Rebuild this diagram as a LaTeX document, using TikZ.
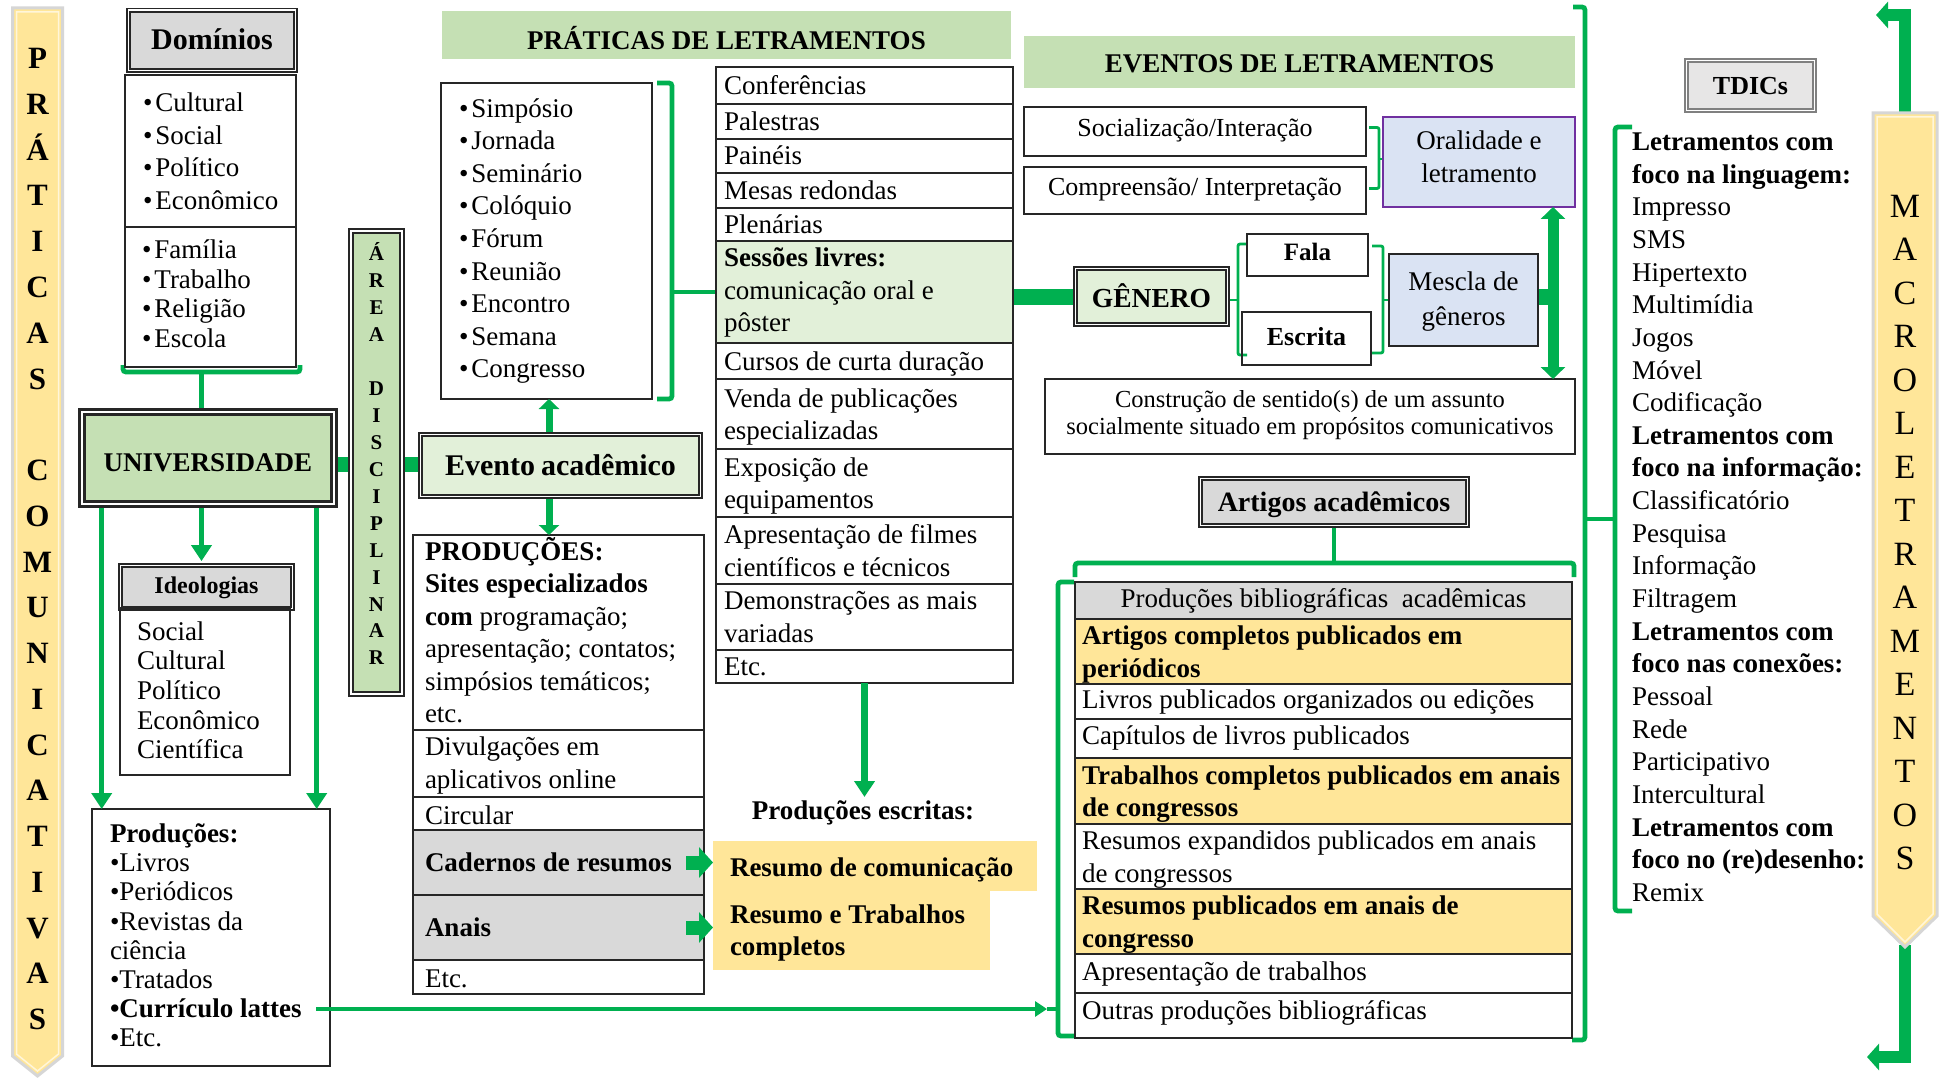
\documentclass[tikz,border=0pt]{standalone}
\usepackage{fontspec}
\setmainfont{Liberation Serif}
\usetikzlibrary{arrows.meta,calc,backgrounds}

\definecolor{gcol}{HTML}{00B050}
\definecolor{hdrgreen}{HTML}{C5E0B4}
\definecolor{palegreen}{HTML}{E2F0D9}
\definecolor{gold}{HTML}{FFE699}
\definecolor{greybox}{HTML}{D9D9D9}
\definecolor{lightgrey}{HTML}{E7E6E6}
\definecolor{paleblue}{HTML}{DAE3F3}
\definecolor{purpleedge}{HTML}{7030A0}
\definecolor{edge}{HTML}{262626}
\definecolor{tdicedge}{HTML}{808080}
\definecolor{bannerrim}{HTML}{D6D6D6}
\definecolor{bannerin}{HTML}{FFF6DA}

\newcommand\bodyfs{\fontsize{27}{32.5}\selectfont}
\newcommand\setfs[2]{\fontsize{#1}{#2}\selectfont}

% left-aligned cell: name, x1, y1, x2, y2, box style, text style, text
\def\cellpad{8}
\newcommand\tcell[8]{%
  \pgfmathsetmacro\cellw{#4-#2}%
  \pgfmathsetmacro\cellh{#5-#3}%
  \pgfmathsetmacro\cellx{(#2+#4)/2}%
  \pgfmathsetmacro\celly{(#3+#5)/2}%
  \pgfmathsetmacro\celll{#2+\cellpad}%
  \node[boxline,#6,minimum width=\cellw pt,minimum height=\cellh pt] (#1) at (\cellx,\celly) {};
  \node[txt,#7] (#1-t) at (\celll,\celly) {#8};}
% centred cell: name, x1, y1, x2, y2, box style, text style, text
\newcommand\ccell[8]{%
  \pgfmathsetmacro\cellw{#4-#2}%
  \pgfmathsetmacro\cellh{#5-#3}%
  \pgfmathsetmacro\cellx{(#2+#4)/2}%
  \pgfmathsetmacro\celly{(#3+#5)/2}%
  \node[boxline,#6,minimum width=\cellw pt,minimum height=\cellh pt] (#1) at (\cellx,\celly) {};
  \node[ctxt,#7] (#1-t) at (\cellx,\celly) {#8};}

\begin{document}
\begin{tikzpicture}[x=1pt,y=-1pt,
  every node/.style={font=\bodyfs},
  boxline/.style={draw=edge, line width=2.2pt, inner sep=0pt, outer sep=0pt},
  txt/.style={anchor=west, align=left, inner sep=0pt, outer sep=0pt, yshift=-5pt,
    execute at begin node=\strut, execute at end node=\strut},
  oneline/.style={yshift=2.5pt},
  ctxt/.style={align=center, inner sep=0pt, outer sep=0pt,
    execute at begin node=\strut, execute at end node=\strut},
  dbl/.style={draw=edge, line width=1.8pt, double=white, double distance=1.6pt},
  dblthick/.style={draw=edge, line width=3pt, double=white, double distance=2.4pt},
  gthin/.style={draw=gcol, line width=2.8pt, rounded corners=2pt},
  gbr/.style={draw=gcol, line width=4.8pt, rounded corners=3pt},
  gthick/.style={draw=gcol, line width=15pt},
  garrow/.style={draw=gcol, line width=5.5pt, arrows={-Triangle[length=16pt,width=20pt]}},
  evarrow/.style={draw=gcol, line width=7pt, arrows={-Triangle[length=10pt,width=20pt]}},
  blockarrow/.style={draw=gcol, line width=14pt, arrows={-Triangle[length=14pt,width=30pt]}},
  lattesarrow/.style={draw=gcol, line width=4.5pt, arrows={-Triangle[length=12pt,width=15pt]}},
  updownarrow/.style={draw=gcol, line width=11pt, arrows={Triangle[length=12pt,width=24pt]-Triangle[length=12pt,width=24pt]}},
  bigarrow/.style={draw=gcol, line width=12pt, arrows={-Triangle[length=12pt,width=26pt]}},
  letter/.style={inner sep=0pt, text depth=0pt}
]
\begin{pgfonlayer}{background}
  \fill[white] (0,0) rectangle (1941,1078);
\end{pgfonlayer}
\useasboundingbox (0,0) rectangle (1941,1078);

% ---------- side banners
\fill[gold] (12.5,8) -- (62.5,8) -- (62.5,1056) -- (37.5,1076) -- (12.5,1056) -- cycle;
\draw[bannerrim, line width=3pt] (12.5,8) -- (62.5,8) -- (62.5,1056) -- (37.5,1076) -- (12.5,1056) -- cycle;
\draw[bannerin, line width=1.5pt] (16.5,12) -- (58.5,12) -- (58.5,1054) -- (37.5,1071) -- (16.5,1054) -- cycle;
\foreach \s/\l in {0/P,1/R,2/Á,3/T,4/I,5/C,6/A,7/S,9/C,10/O,11/M,12/U,13/N,14/I,15/C,16/A,17/T,18/I,19/V,20/A,21/S}
  \node[letter, text height=20.5pt, font=\setfs{31}{31}\bfseries] (pc\s) at (37.5,{58.5+45.75*\s}) {\l};

\coordinate (mtop) at (1905,113);
\coordinate (mbot) at (1905,945);
\coordinate (mtopend) at (1876,15);
\coordinate (mbotend) at (1867,1057);
\draw[bigarrow] (mtop) |- (mtopend);
\draw[bigarrow] (mbot) |- (mbotend);
\fill[gold] (1873,113) -- (1937,113) -- (1937,916) -- (1905,947) -- (1873,916) -- cycle;
\draw[bannerrim, line width=3pt] (1873,113) -- (1937,113) -- (1937,916) -- (1905,947) -- (1873,916) -- cycle;
\draw[bannerin, line width=1.5pt] (1877,117) -- (1933,117) -- (1933,914) -- (1905,942) -- (1877,914) -- cycle;
\foreach \s/\l in {0/M,1/A,2/C,3/R,4/O,5/L,6/E,7/T,8/R,9/A,10/M,11/E,12/N,13/T,14/O,15/S}
  \node[letter, text height=22.4pt, font=\setfs{34}{34}] (ml\s) at (1905,{206+43.5*\s}) {\l};

% ---------- domains, university, ideologies, productions
\ccell{dom}{128.6}{10.2}{295.4}{70.4}{dbl,fill=greybox}{font=\setfs{30}{30}\bfseries,yshift=-3pt}{Domínios}
\def\cellpad{18}
\tcell{dom1}{125}{75}{296}{227}{}{font=\setfs{27}{32.4}}{•\hspace{3pt}Cultural\\•\hspace{3pt}Social\\•\hspace{3pt}Político\\•\hspace{3pt}Econômico}
\def\cellpad{17}
\tcell{dom2}{125}{227}{296}{367}{}{font=\setfs{27}{29.4},yshift=4pt}{•\hspace{3pt}Família\\•\hspace{3pt}Trabalho\\•\hspace{3pt}Religião\\•\hspace{3pt}Escola}

\ccell{univ}{82.2}{412.2}{333.8}{503.8}{dblthick,fill=hdrgreen}{font=\setfs{27}{27}\bfseries,yshift=-8pt}{UNIVERSIDADE}

\ccell{area}{351}{231}{402}{694}{dbl,fill=hdrgreen}{}{}
\foreach \s/\l in {0/Á,1/R,2/E,3/A,5/D,6/I,7/S,8/C,9/I,10/P,11/L,12/I,13/N,14/A,15/R}
  \node[letter, text height=13.9pt, font=\setfs{21}{21}\bfseries] (ad\s) at (376.5,{254+26.93*\s}) {\l};

\ccell{ideoh}{120.6}{565.6}{292.4}{608.4}{dbl,fill=greybox}{font=\setfs{24}{24}\bfseries,yshift=-2pt}{Ideologias}
\def\cellpad{17}
\tcell{ideo}{120}{608}{290}{775}{}{font=\setfs{27}{29.7},yshift=2pt}{Social\\Cultural\\Político\\Econômico\\Científica}

\def\cellpad{18}
\tcell{prod}{92}{809}{330}{1066}{}{font=\setfs{27}{29.1},yshift=3pt}{\textbf{Produções:}\\•Livros\\•Periódicos\\•Revistas da\\ciência\\•Tratados\\\textbf{•Currículo lattes}\\•Etc.}

% ---------- academic event
\ccell{evento}{420.6}{434.6}{700.4}{496.4}{dbl,fill=palegreen}{font=\setfs{30}{30}\bfseries,yshift=-3.5pt}{Evento\hspace{6pt}acadêmico}
\def\cellpad{18}
\tcell{simp}{441}{83}{652}{399}{}{font=\setfs{27}{32.6},yshift=3pt}{•\hspace{3pt}Simpósio\\•\hspace{3pt}Jornada\\•\hspace{3pt}Seminário\\•\hspace{3pt}Colóquio\\•\hspace{3pt}Fórum\\•\hspace{3pt}Reunião\\•\hspace{3pt}Encontro\\•\hspace{3pt}Semana\\•\hspace{3pt}Congresso}

\ccell{prat}{442}{11}{1011}{59}{draw=none,fill=hdrgreen}{font=\setfs{27}{27}\bfseries,yshift=-7pt}{PRÁTICAS DE LETRAMENTOS}

\def\cellpad{8}
\tcell{conf}{716}{67}{1013}{104}{}{oneline}{Conferências}
\tcell{pal}{716}{104}{1013}{139}{}{oneline}{Palestras}
\tcell{pain}{716}{139}{1013}{173}{}{oneline}{Painéis}
\tcell{mesa}{716}{173}{1013}{208}{}{oneline}{Mesas redondas}
\tcell{plen}{716}{208}{1013}{241}{}{oneline}{Plenárias}
\tcell{sess}{716}{241}{1013}{343}{fill=palegreen}{yshift=2.5pt}{\textbf{Sessões livres:}\\comunicação oral e\\pôster}
\tcell{curs}{716}{343}{1013}{379}{}{oneline}{Cursos de curta duração}
\tcell{venda}{716}{379}{1013}{449}{}{}{Venda de publicações\\especializadas}
\tcell{expo}{716}{449}{1013}{517}{}{}{Exposição de\\equipamentos}
\tcell{apres}{716}{517}{1013}{584}{}{}{Apresentação de filmes\\científicos e técnicos}
\tcell{demo}{716}{584}{1013}{650}{}{}{Demonstrações as mais\\variadas}
\tcell{etcr}{716}{650}{1013}{683}{}{oneline}{Etc.}

\def\cellpad{12}
\tcell{pr1}{413}{535}{704}{730}{}{yshift=2.5pt}{\textbf{PRODUÇÕES:}\\\textbf{Sites especializados}\\\textbf{com} programação;\\apresentação; contatos;\\simpósios temáticos;\\etc.}
\tcell{pr2}{413}{730}{704}{797}{}{yshift=1pt}{Divulgações em\\aplicativos online}
\tcell{pr3}{413}{797}{704}{830}{}{yshift=1pt}{Circular}
\tcell{cad}{413}{830}{704}{895}{fill=greybox}{font=\bodyfs\bfseries,oneline}{Cadernos de resumos}
\tcell{anais}{413}{895}{704}{960}{fill=greybox}{font=\bodyfs\bfseries,oneline}{Anais}
\tcell{pr6}{413}{960}{704}{994}{}{yshift=1pt}{Etc.}

\node[inner sep=0pt, font=\setfs{27}{27}\bfseries] (prodesc) at (863,813) {Produções escritas:};
\def\cellpad{17}
\tcell{res1}{713}{841}{1037}{890.5}{draw=none,fill=gold}{font=\setfs{27}{32}\bfseries,yshift=1pt}{Resumo de comunicação}
\tcell{res2}{713}{890}{990}{970}{draw=none,fill=gold}{font=\setfs{27}{32}\bfseries}{Resumo e Trabalhos\\completos}

% ---------- literacy events
\ccell{evhdr}{1024}{36}{1575}{88}{draw=none,fill=hdrgreen}{font=\setfs{27}{27}\bfseries,yshift=-5.5pt}{EVENTOS DE LETRAMENTOS}
\ccell{soc}{1024}{107}{1366}{156}{}{font=\setfs{26}{26}}{Socialização/Interação}
\ccell{comp}{1024}{167}{1366}{214}{}{font=\setfs{26}{26}}{Compreensão/ Interpretação}
\ccell{oral}{1383}{117}{1575}{207}{draw=purpleedge,fill=paleblue}{font=\setfs{27}{33}}{Oralidade e\\letramento}
\ccell{genero}{1075.6}{268.6}{1227.4}{324.4}{dbl,fill=palegreen}{font=\setfs{27.5}{27.5}\bfseries,yshift=-3.5pt}{GÊNERO}
\ccell{fala}{1247}{234}{1368}{276}{}{font=\setfs{25}{25}\bfseries}{Fala}
\ccell{escr}{1242}{312}{1371}{365}{}{font=\setfs{26}{26}\bfseries,yshift=-2pt}{Escrita}
\ccell{mescla}{1389}{254}{1538}{346}{fill=paleblue}{font=\setfs{27}{35},yshift=-4pt}{Mescla de\\gêneros}
\ccell{constr}{1045}{379}{1575}{454}{}{font=\setfs{24.5}{27}}{Construção de sentido(s) de um assunto\\socialmente situado em propósitos comunicativos}
\ccell{art}{1200.6}{478.6}{1467.4}{525.4}{dbl,fill=greybox}{font=\setfs{28}{28}\bfseries,yshift=-3.5pt}{Artigos acadêmicos}

\def\cellpad{7}
\ccell{b0}{1075}{582}{1572}{619}{fill=greybox}{}{Produções bibliográficas\ \ acadêmicas}
\tcell{b1}{1075}{619}{1572}{684}{fill=gold}{font=\bodyfs\bfseries}{Artigos completos publicados em\\periódicos}
\tcell{b2}{1075}{684}{1572}{719}{}{yshift=4.5pt}{Livros publicados organizados ou edições}
\tcell{b3}{1075}{719}{1572}{758}{}{yshift=5.5pt}{Capítulos de livros publicados}
\tcell{b4}{1075}{758}{1572}{824}{fill=gold}{font=\bodyfs\bfseries}{Trabalhos completos publicados em anais\\de congressos}
\tcell{b5}{1075}{824}{1572}{889}{}{}{Resumos expandidos publicados em anais\\de congressos}
\tcell{b6}{1075}{889}{1572}{954}{fill=gold}{font=\bodyfs\bfseries}{Resumos publicados em anais de\\congresso}
\tcell{b7}{1075}{954}{1572}{993}{}{yshift=4.5pt}{Apresentação de trabalhos}
\tcell{b8}{1075}{993}{1572}{1038}{}{yshift=8pt}{Outras produções bibliográficas}

% ---------- digital technologies
\ccell{tdic}{1686.6}{60.6}{1814.4}{110.4}{dbl,draw=tdicedge,fill=lightgrey}{font=\setfs{26}{26}\bfseries,yshift=-4pt}{TDICs}
\node[txt, font=\setfs{27}{32.65}] (tdictext) at (1632,517) {\textbf{Letramentos com}\\\textbf{foco na linguagem:}\\Impresso\\SMS\\Hipertexto\\Multimídia\\Jogos\\Móvel\\Codificação\\\textbf{Letramentos com}\\\textbf{foco na informação:}\\Classificatório\\Pesquisa\\Informação\\Filtragem\\\textbf{Letramentos com}\\\textbf{foco nas conexões:}\\Pessoal\\Rede\\Participativo\\Intercultural\\\textbf{Letramentos com}\\\textbf{foco no (re)desenho:}\\Remix};

% ---------- brackets and joining bars (behind the boxes)
\begin{pgfonlayer}{background}
  \draw[gbr] (123,365) -- (123,372) -- (300,372) -- (300,365);
  \coordinate (dombr) at (201.5,372);
  \draw[gbr] (dombr) -- (dombr |- univ.north);

  \coordinate (lvl) at (0,464);
  \draw[gthick] (univ.east |- lvl) -- (area.west |- lvl);
  \draw[gthick] (area.east |- lvl) -- (evento.west |- lvl);

  \draw[gbr] (657,83) -- (672,83) -- (672,399) -- (657,399);
  \coordinate (simpbr) at (672,292);
  \draw[gbr] (simpbr) -- (simpbr -| sess.west);

  \coordinate (genlvl) at (0,297);
  \draw[gthick, line width=16pt] (sess.east |- genlvl) -- (genero.west |- genlvl);

  \draw[gthin] (1369,127.5) -- (1379,127.5) -- (1379,188.5) -- (1369,188.5);
  \coordinate (socbr) at (1379,159);
  \draw[gthin] (socbr) -- (socbr -| oral.west);

  \draw[gthin] (1247,244) -- (1238,244) -- (1238,355) -- (1247,355);
  \coordinate (genbr) at (1238,300);
  \draw[gthin] (genero.east |- genbr) -- (genbr);
  \draw[gthin] (1372,246) -- (1383,246) -- (1383,353) -- (1372,353);
  \coordinate (mesbr) at (1383,300);
  \draw[gthin] (mesbr) -- (mesbr -| mescla.west);

  \coordinate (vx) at (1553,0);
  \draw[gthick, line width=16pt] (mescla.east |- genlvl) -- ($(vx |- genlvl)+(5,0)$);

  \draw[gbr] (1075,577) -- (1075,563) -- (1574,563) -- (1574,577);
  \coordinate (bibtop) at (0,563);
  \draw[gbr] (art.south) -- (art.south |- bibtop);

  \draw[gbr] (1074,582) -- (1058,582) -- (1058,1036) -- (1074,1036);
  \coordinate (bibin) at (1047,1009);
  \coordinate (bibmid) at (1058,1009);
  \draw[gbr] (bibin) -- (bibmid);

  \draw[gbr] (1573,7) -- (1585,7) -- (1585,1040) -- (1572,1040);
  \draw[gbr] (1632,127) -- (1615,127) -- (1615,911) -- (1632,911);
  \coordinate (bigbr) at (1585,519);
  \coordinate (tdicbr) at (1615,519);
  \draw[gbr] (bigbr) -- (tdicbr);
\end{pgfonlayer}

% ---------- arrows
\coordinate (ual) at (101.7,0);
\coordinate (uar) at (316.7,0);
\coordinate (uam) at (201.5,0);
\draw[garrow, shorten <=4pt] (univ.south -| ual) -- (prod.north -| ual);
\draw[garrow, shorten <=4pt] (univ.south -| uar) -- (prod.north -| uar);
\draw[garrow, shorten <=4pt, shorten >=4.5pt] (univ.south -| uam) -- (ideoh.north -| uam);

\coordinate (evx) at (549,0);
\draw[evarrow, shorten <=2.6pt] (evento.north -| evx) -- (simp.south -| evx);
\draw[evarrow, shorten <=2.6pt] (evento.south -| evx) -- (pr1.north -| evx);

\coordinate (pe) at (0,797);
\draw[garrow, line width=6.5pt] (etcr.south) -- (etcr.south |- pe);

\draw[blockarrow] ($(cad.east)+(-18,0)$) -- (cad.east -| res1.west);
\draw[blockarrow] ($(anais.east)+(-18,0)$) -- (anais.east -| res2.west);

\coordinate (lattes) at (316,1009);
\draw[lattesarrow] (lattes) -- (bibin);

\draw[updownarrow] (oral.south -| vx) -- (constr.north -| vx);
\end{tikzpicture}
\end{document}
